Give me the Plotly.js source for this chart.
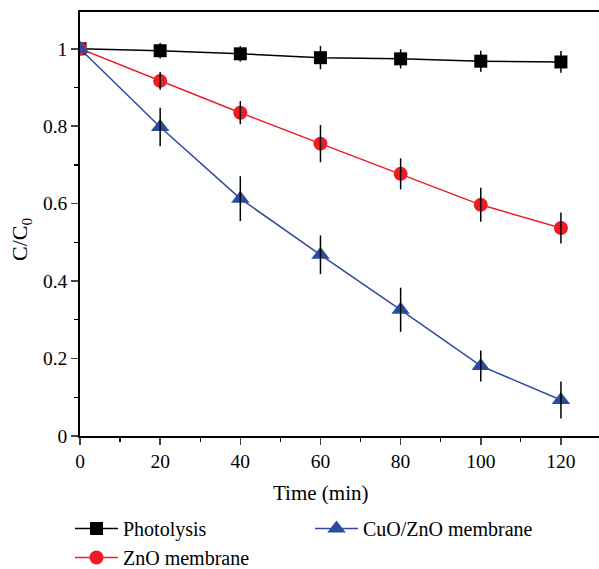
<!DOCTYPE html>
<html>
<head>
<meta charset="utf-8">
<script src="https://cdn.plot.ly/plotly-3.0.1.min.js"></script>
<style>html,body{margin:0;padding:0;background:#fff;}#chart{width:599px;height:569px;}</style>
</head>
<body>
<div id="chart"></div>
<script>
var time = [0, 20, 40, 60, 80, 100, 120];
var photolysis = [1.0, 0.995, 0.987, 0.977, 0.974, 0.968, 0.966];
var photolysisErr = [0.0, 0.02, 0.02, 0.03, 0.025, 0.027, 0.028];
var zno = [1.0, 0.917, 0.835, 0.755, 0.677, 0.597, 0.537];
var znoErr = [0.0, 0.023, 0.03, 0.048, 0.04, 0.044, 0.04];
var cuozno = [1.0, 0.798, 0.613, 0.468, 0.326, 0.181, 0.093];
var cuoznoErr = [0.0, 0.05, 0.058, 0.05, 0.057, 0.04, 0.048];
var names = ["Photolysis", "ZnO membrane", "CuO/ZnO membrane"];
var xTitle = "Time (min)";
var yTitle = "C/C<sub>0</sub>";

var colors = ["#000000", "#ee1c25", "#2e4a9e"];
var symbols = ["square", "circle", "triangle-up"];
var sizes = [13, 14, 16];
var series = [photolysis, zno, cuozno];
var errs = [photolysisErr, znoErr, cuoznoErr];
var legends = ["legend", "legend", "legend2"];

var traces = [];
for (var i = 0; i < 3; i++) {
  traces.push({
    x: time, y: series[i], name: names[i], type: "scatter", mode: "lines+markers",
    line: {color: colors[i], width: 1.5},
    marker: {color: colors[i], symbol: symbols[i], size: sizes[i]},
    legend: legends[i]
  });
}
for (var j = 0; j < 3; j++) {
  traces.push({
    x: time, y: series[j], type: "scatter", mode: "markers", showlegend: false, hoverinfo: "skip",
    marker: {color: "rgba(0,0,0,0)", size: 1},
    error_y: {type: "data", array: errs[j], visible: true, color: "#000", thickness: 1.5, width: 0}
  });
}

var fam = "Liberation Serif, Times New Roman, serif";
var layout = {
  width: 599, height: 569,
  margin: {l: 80, r: 0, t: 12, b: 133, autoexpand: false},
  paper_bgcolor: "#fff", plot_bgcolor: "#fff",
  font: {family: fam, size: 18, color: "#000"},
  xaxis: {
    range: [0, 129.5], tickvals: [0, 20, 40, 60, 80, 100, 120], ticks: "outside", ticklen: 7, tickwidth: 1.5,
    minor: {dtick: 10, ticks: "outside", ticklen: 4, tickwidth: 1.2, tickcolor: "#000"},
    showline: true, linecolor: "#000", linewidth: 1.8, mirror: true, showgrid: false, zeroline: false,
    tickfont: {family: fam, size: 19.5, color: "#000"}, automargin: false
  },
  yaxis: {
    range: [0, 1.095], dtick: 0.2, tick0: 0, ticks: "outside", ticklen: 7, tickwidth: 1.5,
    minor: {dtick: 0.1, ticks: "outside", ticklen: 4, tickwidth: 1.2, tickcolor: "#000"},
    showline: true, linecolor: "#000", linewidth: 1.8, showgrid: false, zeroline: false,
    tickfont: {family: fam, size: 19.5, color: "#000"}, automargin: false
  },
  annotations: [
    {text: xTitle, xref: "paper", yref: "paper", x: (320 - 80) / 519, y: (436 - 493) / 424,
     xanchor: "center", yanchor: "middle", showarrow: false, font: {family: fam, size: 21, color: "#000"}},
    {text: yTitle, xref: "paper", yref: "paper", x: (21 - 80) / 519, y: (436 - 240) / 424,
     xanchor: "center", yanchor: "middle", textangle: -90, showarrow: false, font: {family: fam, size: 22, color: "#000"}}
  ],
  legend: {xref: "container", yref: "container", x: 70 / 599, y: 1 - 509 / 569, xanchor: "left", yanchor: "top",
    orientation: "v", itemwidth: 43, font: {family: fam, size: 20, color: "#000"}, bgcolor: "rgba(0,0,0,0)", tracegroupgap: 0},
  legend2: {xref: "container", yref: "container", x: 310 / 599, y: 1 - 509 / 569, xanchor: "left", yanchor: "top",
    orientation: "v", itemwidth: 43, font: {family: fam, size: 20, color: "#000"}, bgcolor: "rgba(0,0,0,0)"}
};

Plotly.newPlot("chart", traces, layout, {displayModeBar: false, staticPlot: true});
</script>
</body>
</html>
